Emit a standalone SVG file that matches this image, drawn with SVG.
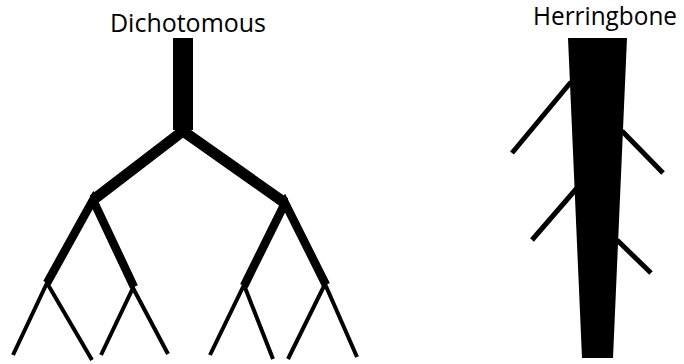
<svg xmlns="http://www.w3.org/2000/svg" width="684" height="364" viewBox="0 0 684 364">
<style>
.lbl{font-family:"Open Sans","Liberation Sans",sans-serif;font-size:25.5px;fill:#000;text-anchor:middle}
.b{fill:none;stroke:#000;stroke-linecap:butt;stroke-linejoin:miter}
.l1{stroke-width:11}
.l2{stroke-width:8.5}
.l3{stroke-width:4}
.hb{stroke-width:5}
</style>
<rect width="684" height="364" fill="#fff"/>
<g id="dichotomous">
<text class="lbl" x="188" y="31.7" textLength="156" lengthAdjust="spacingAndGlyphs">Dichotomous</text>
<rect x="173" y="38" width="20" height="92" fill="#000"/>
<polyline class="b l1" points="93,200 183,131 285,203"/>
<polyline class="b l2" points="47,283 93,200 134,287"/>
<polyline class="b l2" points="244,286 285,203 326,285"/>
<polyline class="b l3" points="13,355 47,283 92,360"/>
<polyline class="b l3" points="101,355 133,288 168,354"/>
<polyline class="b l3" points="210,355 244,285 273,359"/>
<polyline class="b l3" points="288,359 325,284 357,357"/>
</g>
<g id="herringbone">
<text class="lbl" x="605" y="25" textLength="144" lengthAdjust="spacingAndGlyphs">Herringbone</text>
<line class="b hb" x1="571" y1="82" x2="512" y2="153"/>
<line class="b hb" x1="622" y1="131" x2="663" y2="173"/>
<line class="b hb" x1="577" y1="188" x2="532" y2="240"/>
<line class="b hb" x1="617" y1="240" x2="651" y2="273"/>
<polygon points="568,38 627,38 613,358 582,358" fill="#000"/>
</g>
</svg>
